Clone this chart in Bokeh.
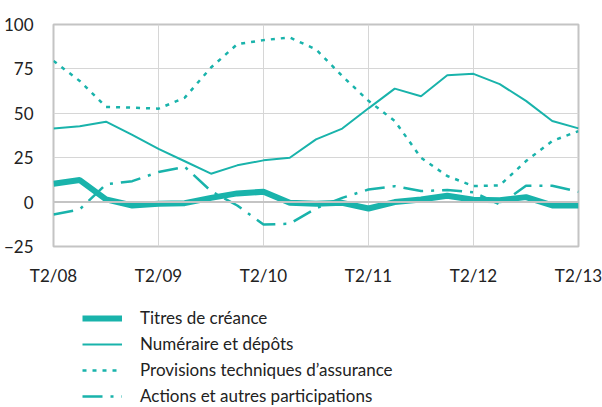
from bokeh.plotting import figure
from bokeh.layouts import column
from bokeh.models import Legend, LegendItem, FixedTicker, Span
from bokeh.embed import file_html
from bokeh.resources import INLINE

quarters = ["T2/08", "T3/08", "T4/08", "T1/09", "T2/09", "T3/09", "T4/09", "T1/10",
            "T2/10", "T3/10", "T4/10", "T1/11", "T2/11", "T3/11", "T4/11", "T1/12",
            "T2/12", "T3/12", "T4/12", "T1/13", "T2/13"]
tick_labels = ["T2/08", "T2/09", "T2/10", "T2/11", "T2/12", "T2/13"]

titres = [10.3, 12.4, 1.5, -1.9, -0.9, -0.6, 2.4, 4.9, 5.8, -0.4, -0.9,
          -0.4, -3.6, 0.0, 1.5, 3.6, 1.3, 1.1, 2.8, -1.9, -1.9]
numeraire = [41.4, 42.7, 45.3, 37.8, 30.0, 23.0, 16.0, 20.7, 23.5, 25.0, 35.3,
             41.4, 52.8, 63.9, 59.6, 71.4, 72.2, 66.4, 57.0, 45.7, 41.5]
provisions = [79.5, 68.2, 53.6, 53.2, 52.6, 58.8, 75.8, 88.9, 91.2, 92.7, 86.0,
              71.0, 57.0, 45.7, 25.0, 14.7, 9.0, 9.4, 23.1, 34.4, 40.0]
actions = [-7.0, -4.1, 10.0, 11.8, 16.9, 19.9, 6.2, -1.9, -12.6, -12.2, -3.5,
           2.4, 7.1, 9.0, 6.2, 6.8, 5.5, -1.3, 9.2, 9.2, 5.8]
series_names = ["Titres de créance", "Numéraire et dépôts",
                "Provisions techniques d\u2019assurance", "Actions et autres participations"]

x = list(range(len(quarters)))
series = [titres, numeraire, provisions, actions]
TEAL = "#19B3AB"
FONT = "Lato"
styles = [dict(line_width=6),
          dict(line_width=2),
          dict(line_width=2.5, line_dash="4 6"),
          dict(line_width=2.5, line_dash="20 8 3 8")]

p = figure(width=602, height=290, output_backend="svg", toolbar_location=None,
           x_range=(0, len(quarters) - 1), y_range=(-25, 100),
           min_border_left=50, min_border_right=24, min_border_top=24,
           min_border_bottom=44)
p.background_fill_color = "white"
p.border_fill_color = "white"
p.outline_line_color = "#c4c4c4"
p.outline_line_width = 2

tick_pos = [quarters.index(t) for t in tick_labels]
p.xaxis.ticker = FixedTicker(ticks=tick_pos)
p.xaxis.major_label_overrides = {i: t for i, t in zip(tick_pos, tick_labels)}
p.yaxis.ticker = FixedTicker(ticks=[-25, 0, 25, 50, 75, 100])

for ax in (p.xaxis[0], p.yaxis[0]):
    ax.axis_line_color = None
    ax.major_tick_line_color = None
    ax.minor_tick_line_color = None
    ax.major_label_text_font = FONT
    ax.major_label_text_font_size = "17px"
    ax.major_label_text_color = "#222222"
p.xaxis.major_label_standoff = 12
p.yaxis.major_label_standoff = 14

p.xgrid.ticker = FixedTicker(ticks=tick_pos)
p.grid.grid_line_color = "#d6d6d6"
p.grid.grid_line_width = 1

p.add_layout(Span(location=0, dimension="width", line_color="#c4c4c4", line_width=2))

for ys, st in zip(series, styles):
    p.line(x, ys, line_color=TEAL, **st)

# legend panel below the chart (its lines lie outside its view)
q = figure(width=602, height=117, output_backend="svg", toolbar_location=None,
           x_range=(0, len(quarters) - 1), y_range=(1000, 1001), min_border=0,
           x_axis_location=None, y_axis_location=None)
q.grid.visible = False
q.outline_line_color = None
q.background_fill_color = "white"
q.border_fill_color = "white"

items = []
for name, ys, st in zip(series_names, series, styles):
    r = q.line(x, ys, line_color=TEAL, **st)
    items.append(LegendItem(label=name, renderers=[r]))

legend = Legend(items=items, location=(29, 1), orientation="vertical")
legend.background_fill_alpha = 0
legend.border_line_color = None
legend.padding = 0
legend.margin = 0
legend.spacing = 5
legend.glyph_width = 40
legend.glyph_height = 20
legend.label_height = 20
legend.label_standoff = 18
legend.label_text_font = FONT
legend.label_text_font_size = "17px"
legend.label_text_color = "#222222"
q.add_layout(legend)

open("out.html", "w").write(file_html(column(p, q, spacing=0), INLINE))
